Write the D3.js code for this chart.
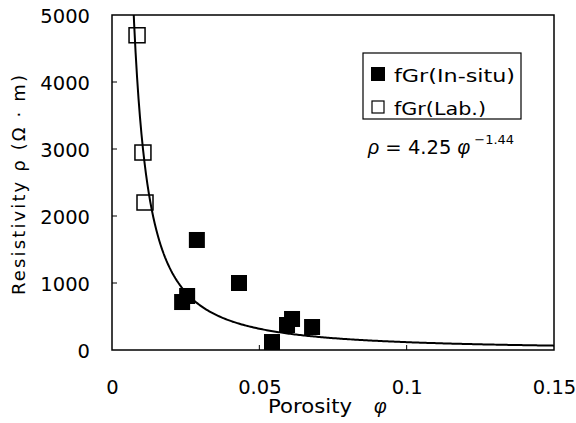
<!DOCTYPE html>
<html>
<head>
<meta charset="utf-8">
<script src="https://cdn.jsdelivr.net/npm/d3@7"></script>
<style>
  body { margin: 0; background: #fff; }
  text { font-family: "DejaVu Sans", "Liberation Sans", Arial, sans-serif; fill: #000; }
  .greek { font-family: "Liberation Sans", Arial, sans-serif; font-style: italic; }
</style>
</head>
<body>
<script>
// SVG area
var svgWidth = 576;
var svgHeight = 423;

// plot box (pixel edges of the frame)
var margin = { top: 15, right: 22, bottom: 73, left: 112 };
var chartWidth = svgWidth - margin.left - margin.right;
var chartHeight = svgHeight - margin.top - margin.bottom;

// data
var insituPorosity = [0.0238, 0.0255, 0.0288, 0.0431, 0.0543, 0.0594, 0.0611, 0.0679];
var insituResist   = [716, 806, 1642, 1000, 119, 373, 463, 343];
var labPorosity = [0.0085, 0.0105, 0.0112];
var labResist   = [4690, 2940, 2194];

var xTicks = [0, 0.05, 0.1, 0.15];
var xTickLabels = ["0", "0.05", "0.1", "0.15"];
var yTicks = [0, 1000, 2000, 3000, 4000, 5000];

// fitted law rho = a * phi^b
var fitA = 4.25;
var fitB = -1.44;

var svg = d3.select("body")
  .append("svg")
  .attr("width", svgWidth)
  .attr("height", svgHeight);

var chartGroup = svg.append("g")
  .attr("transform", `translate(${margin.left}, ${margin.top})`);

var xScale = d3.scaleLinear().domain([0, 0.15]).range([0, chartWidth]);
var yScale = d3.scaleLinear().domain([0, 5000]).range([chartHeight, 0]);

// clip for the curve
svg.append("defs").append("clipPath").attr("id", "clip")
  .append("rect").attr("width", chartWidth).attr("height", chartHeight);

// frame
chartGroup.append("rect")
  .attr("width", chartWidth)
  .attr("height", chartHeight)
  .attr("fill", "none")
  .attr("stroke", "#000")
  .attr("stroke-width", 1.5);

// left axis, ticks pointing inward
var leftAxis = d3.axisLeft(yScale).tickValues(yTicks).tickSize(0).tickPadding(22)
  .tickFormat(d3.format("d"));
var yAxis = chartGroup.append("g").call(leftAxis);
yAxis.select(".domain").remove();
yAxis.selectAll("text").style("font-size", "19.5px").attr("dy", "0.36em");
chartGroup.selectAll(".ytick").data(yTicks.slice(1, -1)).enter()
  .append("line")
  .attr("x1", 0).attr("x2", 5)
  .attr("y1", d => yScale(d)).attr("y2", d => yScale(d))
  .attr("stroke", "#000");

// bottom axis
var bottomAxis = d3.axisBottom(xScale).tickValues(xTicks).tickSize(0).tickPadding(30)
  .tickFormat((d, i) => xTickLabels[i]);
var xAxis = chartGroup.append("g")
  .attr("transform", `translate(0, ${chartHeight})`)
  .call(bottomAxis);
xAxis.select(".domain").remove();
xAxis.selectAll("text").style("font-size", "19.5px");
chartGroup.selectAll(".xtick").data(xTicks.slice(1, -1)).enter()
  .append("line")
  .attr("x1", d => xScale(d)).attr("x2", d => xScale(d))
  .attr("y1", chartHeight).attr("y2", chartHeight - 5)
  .attr("stroke", "#000");

// fitted curve
var curvePhi = d3.range(0.006, 0.1501, 0.0005);
var drawLine = d3.line()
  .x(d => xScale(d))
  .y(d => yScale(fitA * Math.pow(d, fitB)));
chartGroup.append("path")
  .datum(curvePhi)
  .attr("d", drawLine)
  .attr("clip-path", "url(#clip)")
  .attr("fill", "none")
  .attr("stroke", "#000")
  .attr("stroke-width", 2);

var sq = 16;
// lab points (open)
chartGroup.selectAll(".lab").data(labPorosity).enter()
  .append("rect")
  .attr("x", d => xScale(d) - sq / 2)
  .attr("y", (d, i) => yScale(labResist[i]) - sq / 2)
  .attr("width", sq).attr("height", sq - 1)
  .attr("fill", "none")
  .attr("stroke", "#000")
  .attr("stroke-width", 1.5);

// in-situ points (filled)
chartGroup.selectAll(".insitu").data(insituPorosity).enter()
  .append("rect")
  .attr("x", d => xScale(d) - sq / 2)
  .attr("y", (d, i) => yScale(insituResist[i]) - sq / 2)
  .attr("width", sq).attr("height", sq)
  .attr("fill", "#000");

// legend
var legend = svg.append("g");
legend.append("rect")
  .attr("x", 363).attr("y", 53).attr("width", 158).attr("height", 66)
  .attr("fill", "#fff").attr("stroke", "#000").attr("stroke-width", 1.2);
legend.append("rect").attr("x", 371).attr("y", 67).attr("width", 14).attr("height", 14)
  .attr("fill", "#000");
legend.append("rect").attr("x", 372).attr("y", 101).attr("width", 12).attr("height", 12)
  .attr("fill", "none").attr("stroke", "#000").attr("stroke-width", 1.2);
legend.append("text").attr("x", 394).attr("y", 82).style("font-size", "17.5px")
  .attr("textLength", 121).attr("lengthAdjust", "spacingAndGlyphs").text("fGr(In-situ)");
legend.append("text").attr("x", 394).attr("y", 115).style("font-size", "17.5px")
  .attr("textLength", 92).attr("lengthAdjust", "spacingAndGlyphs").text("fGr(Lab.)");

// formula
var formula = svg.append("text").attr("x", 368).attr("y", 154).style("font-size", "19.5px");
formula.append("tspan").attr("class", "greek").text("ρ");
formula.append("tspan").text(" = 4.25 ");
formula.append("tspan").attr("class", "greek").text("φ");
formula.append("tspan").attr("dy", -10).attr("dx", 4).style("font-size", "13px").text("−1.44");

// axis titles
svg.append("text")
  .attr("transform", "translate(25, 185) rotate(-90)")
  .attr("text-anchor", "middle")
  .style("font-size", "18px")
  .attr("textLength", 220).attr("lengthAdjust", "spacing")
  .text("Resistivity  ρ  (Ω · m)");
var xTitle = svg.append("text")
  .attr("x", 268).attr("y", 413)
  .style("font-size", "19.5px");
xTitle.append("tspan").attr("textLength", 84).attr("lengthAdjust", "spacingAndGlyphs").text("Porosity");
xTitle.append("tspan").attr("x", 374).attr("class", "greek").text("φ");
</script>
</body>
</html>
